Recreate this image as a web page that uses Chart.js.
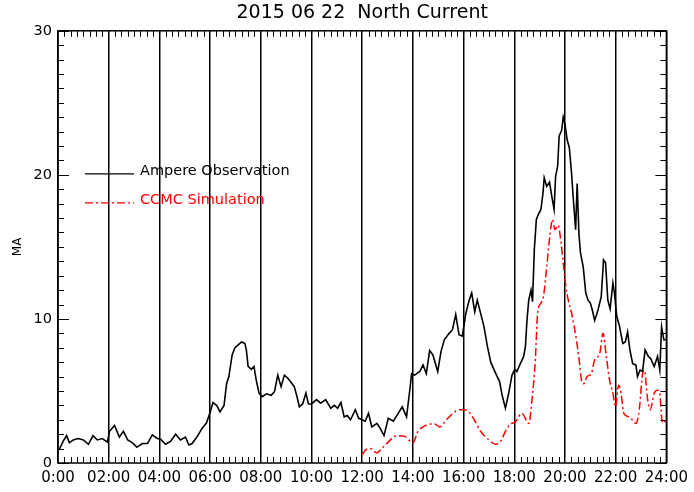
<!DOCTYPE html>
<html>
<head>
<meta charset="utf-8">
<script src="https://cdn.jsdelivr.net/npm/chart.js@4/dist/chart.umd.min.js"></script>
<style>
  body { margin: 0; background: #fff; }
  canvas { display: block; }
</style>
</head>
<body>
<canvas id="coolChart" width="694" height="492"></canvas>
<script>
// hours of day and current in MA
const obsHours = [0.04, 0.2, 0.34, 0.45, 0.6, 0.8, 1.0, 1.2, 1.38, 1.55, 1.75, 1.95,
    2.03, 2.23, 2.42, 2.58, 2.75, 2.94, 3.11, 3.33, 3.53, 3.72, 3.92,
    4.05, 4.24, 4.44, 4.64, 4.83, 5.03, 5.16, 5.29, 5.48, 5.68, 5.85,
    6.0, 6.11, 6.26, 6.39, 6.55, 6.65, 6.74, 6.87, 6.98, 7.11, 7.24, 7.37, 7.43, 7.5, 7.63, 7.73, 7.82, 7.93,
    8.06, 8.22, 8.41, 8.54, 8.67, 8.8, 8.93, 9.06, 9.19, 9.32, 9.43, 9.52, 9.65, 9.78, 9.88,
    10.0, 10.2, 10.36, 10.56, 10.76, 10.9, 11.03, 11.16, 11.29, 11.41, 11.54, 11.73, 11.86, 11.99,
    12.12, 12.25, 12.38, 12.58, 12.71, 12.86, 13.03, 13.23, 13.42, 13.58, 13.75, 13.88, 13.95,
    14.07, 14.27, 14.4, 14.53, 14.66, 14.79, 14.98, 15.11, 15.24, 15.43, 15.56, 15.69, 15.82, 15.95,
    16.09, 16.22, 16.32, 16.44, 16.54, 16.67, 16.8, 16.94, 17.07, 17.27, 17.42, 17.52, 17.65, 17.78, 17.91,
    18.02, 18.1, 18.24, 18.37, 18.44, 18.5, 18.57, 18.66, 18.72, 18.79, 18.87, 18.96, 19.05, 19.13, 19.18,
    19.28, 19.39, 19.48, 19.57, 19.63, 19.71, 19.77, 19.87, 19.93,
    20.0, 20.09, 20.17, 20.26, 20.32, 20.42, 20.48, 20.55, 20.61, 20.72, 20.82, 20.91,
    21.0, 21.08, 21.17, 21.3, 21.43, 21.52, 21.6, 21.69, 21.78, 21.89, 21.95,
    22.04, 22.15, 22.28, 22.38, 22.47, 22.56, 22.67, 22.8, 22.86, 22.96,
    23.06, 23.16, 23.29, 23.38, 23.52, 23.65, 23.74, 23.81, 23.9, 24.0];
const obsValues = [0.9, 1.5, 1.9, 1.4, 1.6, 1.7, 1.6, 1.3, 1.9, 1.6, 1.7, 1.45,
    2.2, 2.6, 1.8, 2.2, 1.6, 1.4, 1.1, 1.35, 1.35, 1.95, 1.7,
    1.65, 1.3, 1.5, 2.0, 1.6, 1.8, 1.25, 1.35, 1.8, 2.4, 2.75,
    3.5, 4.2, 4.0, 3.55, 4.0, 5.5, 6.0, 7.5, 8.0, 8.2, 8.4, 8.3, 7.85, 6.7, 6.5, 6.7, 5.75, 4.85,
    4.6, 4.8, 4.7, 4.95, 6.1, 5.3, 6.1, 5.9, 5.6, 5.3, 4.6, 3.9, 4.1, 4.85, 4.1,
    4.1, 4.4, 4.15, 4.4, 3.8, 4.0, 3.8, 4.2, 3.2, 3.3, 3.0, 3.7, 3.1, 3.0,
    2.9, 3.45, 2.5, 2.75, 2.4, 1.9, 3.1, 2.9, 3.45, 3.9, 3.2, 5.1, 6.2,
    6.1, 6.35, 6.8, 6.2, 7.8, 7.5, 6.35, 7.75, 8.55, 9.0, 9.25, 10.3, 8.9, 8.8,
    10.4, 11.3, 11.8, 10.5, 11.3, 10.4, 9.5, 8.1, 7.0, 6.2, 5.65, 4.7, 3.8, 4.85, 6.1,
    6.5, 6.35, 6.9, 7.4, 8.1, 9.9, 11.3, 12.0, 11.2, 14.8, 16.9, 17.3, 17.6, 18.7, 19.8,
    19.2, 19.5, 18.5, 17.6, 19.9, 20.6, 22.7, 23.1, 24.0,
    23.5, 22.4, 21.9, 20.1, 18.5, 16.2, 19.4, 15.9, 14.6, 13.6, 11.8, 11.3,
    11.1, 10.6, 9.9, 10.6, 11.55, 14.1, 13.9, 11.3, 10.7, 12.5, 11.8,
    10.2, 9.5, 8.3, 8.4, 9.1, 7.85, 6.9, 6.8, 6.0, 6.45,
    6.35, 7.85, 7.4, 7.25, 6.7, 7.4, 6.45, 9.45, 8.55, 8.55];

const simHours = [12.0, 12.13, 12.32, 12.58, 12.77, 12.97, 13.23, 13.42, 13.68,
    14.0, 14.2, 14.4, 14.66, 14.86, 15.06, 15.32, 15.58, 15.84,
    16.03, 16.22, 16.42, 16.67, 17.0, 17.27, 17.46, 17.65, 17.85,
    18.04, 18.3, 18.57, 18.7, 18.83, 18.92, 19.05, 19.15, 19.28, 19.41, 19.51, 19.6, 19.73, 19.83, 19.93,
    20.04, 20.13, 20.26, 20.36, 20.45, 20.56, 20.65, 20.74, 20.87,
    21.04, 21.17, 21.37, 21.5, 21.63, 21.76, 21.89, 21.99,
    22.12, 22.21, 22.32, 22.54, 22.8, 22.93,
    23.06, 23.13, 23.26, 23.36, 23.52, 23.65, 23.74, 23.81, 23.9, 24.0];
const simValues = [0.55, 0.9, 1.0, 0.7, 1.0, 1.35, 1.8, 1.9, 1.85,
    1.4, 2.2, 2.5, 2.7, 2.7, 2.5, 3.0, 3.45, 3.7,
    3.7, 3.5, 3.0, 2.2, 1.6, 1.3, 1.5, 2.2, 2.7,
    2.85, 3.45, 2.75, 4.4, 7.15, 10.4, 11.1, 11.55, 13.6, 15.9, 16.9, 16.2, 16.5, 15.5, 13.9,
    12.2, 11.3, 10.4, 9.5, 8.55, 7.15, 5.75, 5.5, 6.0,
    6.2, 7.15, 7.6, 9.0, 7.4, 5.75, 4.85, 3.9,
    5.4, 4.85, 3.45, 3.2, 2.75, 3.7,
    6.2, 6.45, 4.4, 3.7, 4.85, 5.05, 4.85, 3.2, 2.75, 3.2];

const xTickLabels = ['0:00', '02:00', '04:00', '06:00', '08:00', '10:00', '12:00',
    '14:00', '16:00', '18:00', '20:00', '22:00', '24:00'];
const yTickValues = [0, 10, 20, 30];

function toPoints(xs, ys) {
    return xs.map((h, i) => ({ x: h, y: ys[i] }));
}

// frame with inward minor ticks on all four sides
const frameTicks = {
    id: 'frameTicks',
    afterDraw(chart) {
        const ctx = chart.ctx;
        const a = chart.chartArea;
        const x = chart.scales.x, y = chart.scales.y;
        ctx.save();
        ctx.strokeStyle = '#000';
        ctx.lineWidth = 1;
        ctx.beginPath();
        for (let m = 0; m <= 96; m++) {
            if (m % 8 === 0) continue;
            const px = Math.round(x.getPixelForValue(m / 4)) + 0.5;
            ctx.moveTo(px, a.bottom); ctx.lineTo(px, a.bottom - 6);
            ctx.moveTo(px, a.top); ctx.lineTo(px, a.top + 6);
        }
        for (let v = 0; v <= 30; v++) {
            const py = Math.round(y.getPixelForValue(v)) + 0.5;
            const len = v % 10 === 0 ? 11 : 6;
            ctx.moveTo(a.left, py); ctx.lineTo(a.left + len, py);
            ctx.moveTo(a.right, py); ctx.lineTo(a.right - len, py);
        }
        ctx.stroke();
        ctx.lineWidth = 1.5;
        ctx.strokeRect(a.left, a.top, a.right - a.left, a.bottom - a.top);
        ctx.restore();
    }
};

// legend drawn inside the plot, upper left
const innerLegend = {
    id: 'innerLegend',
    afterDraw(chart) {
        const ctx = chart.ctx;
        const a = chart.chartArea;
        ctx.save();
        ctx.font = '14.5px "DejaVu Sans"';
        ctx.textBaseline = 'middle';
        chart.data.datasets.forEach((ds, i) => {
            const ly = a.top + 143 + i * 29;
            ctx.strokeStyle = ds.borderColor;
            ctx.lineWidth = 1.3;
            ctx.setLineDash(ds.borderDash || []);
            ctx.beginPath();
            ctx.moveTo(a.left + 27, ly);
            ctx.lineTo(a.left + 76, ly);
            ctx.stroke();
            ctx.setLineDash([]);
            ctx.fillStyle = ds.borderColor;
            ctx.fillText(ds.label, a.left + 82, ly - 3);
        });
        ctx.restore();
    }
};

function buildChart() {
    const ctx = document.getElementById('coolChart').getContext('2d');
    new Chart(ctx, {
        type: 'line',
        data: {
            datasets: [{
                label: 'Ampere Observation',
                data: toPoints(obsHours, obsValues),
                borderColor: '#000000',
                borderWidth: 1.6,
                pointRadius: 0,
                tension: 0
            }, {
                label: 'CCMC Simulation',
                data: toPoints(simHours, simValues),
                borderColor: '#ff0000',
                borderWidth: 1.5,
                borderDash: [8, 3, 2, 3],
                pointRadius: 0,
                cubicInterpolationMode: 'monotone'
            }]
        },
        options: {
            responsive: false,
            animation: false,
            devicePixelRatio: 1,
            layout: { padding: { left: 0, right: 22, top: 0, bottom: 0 } },
            plugins: {
                legend: { display: false },
                tooltip: { enabled: false },
                title: {
                    display: true,
                    fullSize: false,
                    text: '2015 06 22  North Current',
                    color: '#000',
                    font: { family: 'DejaVu Sans', size: 19, weight: 'normal', lineHeight: 1.2 },
                    padding: { top: 2, bottom: 6 }
                }
            },
            scales: {
                x: {
                    type: 'linear',
                    min: 0,
                    max: 24,
                    afterFit: s => { s.height = 29; },
                    afterBuildTicks: s => { s.ticks = xTickLabels.map((t, i) => ({ value: i * 2 })); },
                    ticks: {
                        callback: (v, i) => xTickLabels[i],
                        color: '#000',
                        font: { family: 'DejaVu Sans', size: 15 },
                        maxRotation: 0,
                        autoSkip: false,
                        padding: 6
                    },
                    grid: { color: '#000', lineWidth: 1.5, drawTicks: false },
                    border: { display: false }
                },
                y: {
                    min: 0,
                    max: 30,
                    afterFit: s => { s.width = 58; },
                    afterBuildTicks: s => { s.ticks = yTickValues.map(v => ({ value: v })); },
                    ticks: {
                        color: '#000',
                        font: { family: 'DejaVu Sans', size: 14.5 },
                        padding: 6
                    },
                    grid: { display: false, drawTicks: false },
                    border: { display: false },
                    title: {
                        display: true,
                        text: 'MA',
                        color: '#000',
                        font: { family: 'DejaVu Sans', size: 12 },
                        padding: { top: 11, bottom: 0 }
                    }
                }
            }
        },
        plugins: [frameTicks, innerLegend]
    });
}

buildChart();
</script>
</body>
</html>
